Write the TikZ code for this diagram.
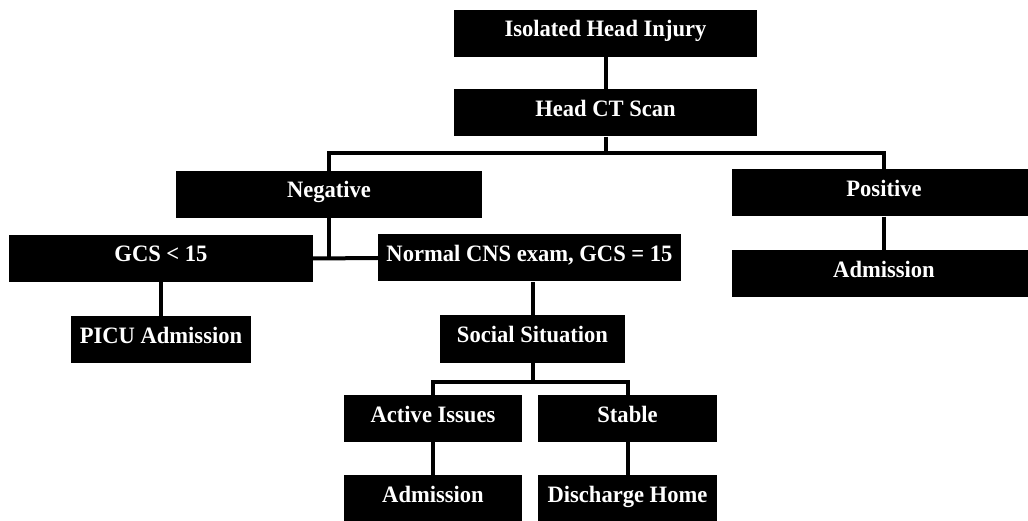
\documentclass[tikz,border=0pt]{standalone}
\usepackage{fontspec}
\setmainfont{Liberation Serif}
\newfontfamily\boxfont[FakeStretch=0.96]{Liberation Serif}
\begin{document}
\begin{tikzpicture}[x=1pt,y=-1pt,
  box/.style={fill=black, text=white, inner xsep=0pt, inner ysep=0pt,
    minimum width=#1, text height=27pt, text depth=20pt,
    font=\boxfont\fontsize{23.5}{27}\selectfont\bfseries},
  conn/.style={line width=4pt}]
\useasboundingbox (0,0) rectangle (1028,521);
\node[box=303pt] (iso) at (605.5,33.5) {Isolated Head Injury};
\node[box=303pt] (ct) at (605.5,113) {Head CT Scan};
\node[box=306pt] (neg) at (329,194.5) {Negative};
\node[box=304pt] (pos) at (884,193) {Positive};
\node[box=304pt] (gcs) at (161,258.5) {GCS < 15};
\node[box=303pt] (cns) at (529.5,258) {Normal CNS exam, GCS = 15};
\node[box=180pt] (picu) at (161,339.5) {PICU Admission};
\node[box=304pt] (adm1) at (884,274) {Admission};
\node[box=185pt] (soc) at (532.5,339) {Social Situation};
\node[box=178pt] (act) at (433,418.5) {Active Issues};
\node[box=179pt] (stab) at (627.5,418.5) {Stable};
\node[box=178pt] (adm2) at (433,498.5) {Admission};
\node[box=179pt] (dis) at (627.5,498.5) {Discharge Home};
\coordinate (bus) at (0,153);
\coordinate (sbus) at (0,382);
\draw[conn] (iso.south) -- (ct.north);
\draw[conn] (ct.south) -- (ct.south |- bus);
\draw[conn] (neg.north) -- (neg.north |- bus) -| (pos.north);
\draw[conn] (neg.south) -- (neg.south |- gcs.east);
\draw[conn] (gcs.east) -- (cns.west);
\draw[conn] (gcs.south) -- (picu.north);
\draw[conn] (pos.south) -- (adm1.north);
\draw[conn] (soc.north) -- (soc.north |- cns.south);
\draw[conn] (soc.south) -- (soc.south |- sbus);
\draw[conn] (act.north) -- (act.north |- sbus) -| (stab.north);
\draw[conn] (act.south) -- (adm2.north);
\draw[conn] (stab.south) -- (dis.north);
\end{tikzpicture}
\end{document}
